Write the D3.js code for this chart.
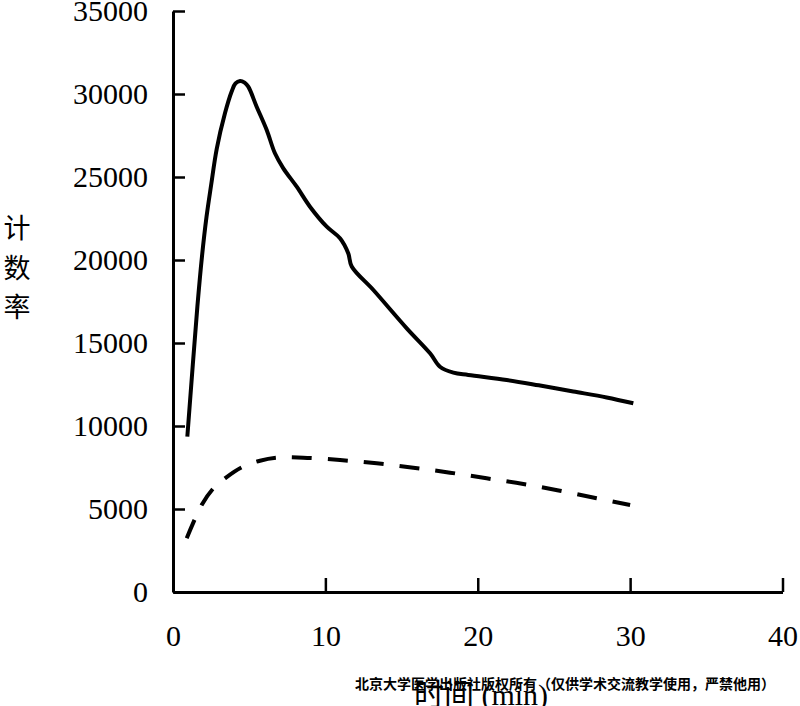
<!DOCTYPE html>
<html><head><meta charset="utf-8">
<script src="https://cdn.jsdelivr.net/npm/d3@7"></script>
<style>body{margin:0;background:#fff}svg{display:block}</style>
</head><body>
<svg id="c" width="800" height="706"></svg>
<script>
const xTicks = [0, 10, 20, 30, 40];
const yTicks = [0, 5000, 10000, 15000, 20000, 25000, 30000, 35000];
const solidX = [0.94, 1.3, 1.6, 1.9, 2.2, 2.5, 2.87, 3.41, 3.85, 4.1, 4.40, 4.7, 4.94, 5.49, 6.15, 6.69, 7.24, 8.12, 8.99, 10.09, 10.96, 11.50, 11.73, 13.15, 15.34, 16.87, 17.52, 18.40, 19.38, 21.90, 24.0, 26.27, 28.46, 30.21];
const solidY = [9355, 13700, 17200, 20200, 22600, 24500, 26700, 28837, 30150, 30634, 30783, 30680, 30440, 29235, 27831, 26428, 25524, 24416, 23211, 22006, 21307, 20404, 19609, 18193, 15886, 14380, 13572, 13211, 13072, 12771, 12450, 12080, 11720, 11367];
const dashX = [0.9, 1.88, 2.65, 3.41, 4.5, 5.71, 6.8, 8.55, 10.96, 13.37, 15.77, 18.18, 20.58, 22.99, 25.39, 27.8, 30.0];
const dashY = [3235, 5240, 6245, 6850, 7510, 7910, 8090, 8090, 7950, 7750, 7490, 7190, 6850, 6505, 6100, 5645, 5240];
const yLabel = ["计", "数", "率"];
const xLabelCn = "时间";
const xLabelUnit = " (min)";
const watermark = "北京大学医学出版社版权所有（仅供学术交流教学使用，严禁他用）";

const svg = d3.select("#c");
const x = d3.scaleLinear().domain([0, 40]).range([173, 782.5]);
const y = d3.scaleLinear().domain([0, 35000]).range([592, 11]);
const serif = "'Liberation Serif', 'Times New Roman', serif";

// axes
const gx = svg.append("g").attr("transform", "translate(0,592)")
  .call(d3.axisBottom(x).tickValues(xTicks).tickFormat(d3.format("d")).tickSizeInner(-14).tickSizeOuter(0));
const gy = svg.append("g").attr("transform", "translate(173,0)")
  .call(d3.axisLeft(y).tickValues(yTicks).tickFormat(d3.format("d")).tickSizeInner(-12).tickSizeOuter(0).tickPadding(25));
[gx, gy].forEach(g => {
  g.select(".domain").attr("stroke", "#000").attr("stroke-width", 3);
  g.selectAll(".tick line").attr("stroke", "#000").attr("stroke-width", 2.5);
  g.selectAll(".tick text").attr("fill", "#000").style("font-family", serif).style("font-size", "30px");
});
gx.selectAll(".tick text").attr("dy", "0.35em").attr("y", 43);

// lines
const line = d3.line().x(d => x(d[0])).y(d => y(d[1])).curve(d3.curveCatmullRom.alpha(0.5));
svg.append("path").datum(solidX.map((v, i) => [v, solidY[i]]))
  .attr("d", line).attr("fill", "none").attr("stroke", "#000").attr("stroke-width", 4)
  .attr("stroke-linejoin", "round");
svg.append("path").datum(dashX.map((v, i) => [v, dashY[i]]))
  .attr("d", line).attr("fill", "none").attr("stroke", "#000").attr("stroke-width", 4)
  .attr("stroke-dasharray", "20,16");

// y label
svg.append("g").selectAll("text").data(yLabel).join("text")
  .attr("x", 17).attr("y", (d, i) => 229 + i * 39.5).attr("dy", "0.35em")
  .attr("text-anchor", "middle")
  .style("font-family", "'Noto Sans CJK SC', sans-serif").style("font-size", "27px")
  .text(d => d);

// x label
const xl = svg.append("text").attr("x", 481).attr("y", 705).attr("text-anchor", "middle")
  .style("font-size", "30px");
xl.append("tspan").style("font-family", "'Noto Sans CJK SC', sans-serif").text(xLabelCn);
xl.append("tspan").style("font-family", serif).text(xLabelUnit);

// watermark
svg.append("text").attr("x", 565).attr("y", 689).attr("text-anchor", "middle")
  .style("font-family", "'Noto Sans CJK SC', sans-serif").style("font-size", "14px")
  .style("font-weight", "bold").text(watermark);
</script>
</body></html>
